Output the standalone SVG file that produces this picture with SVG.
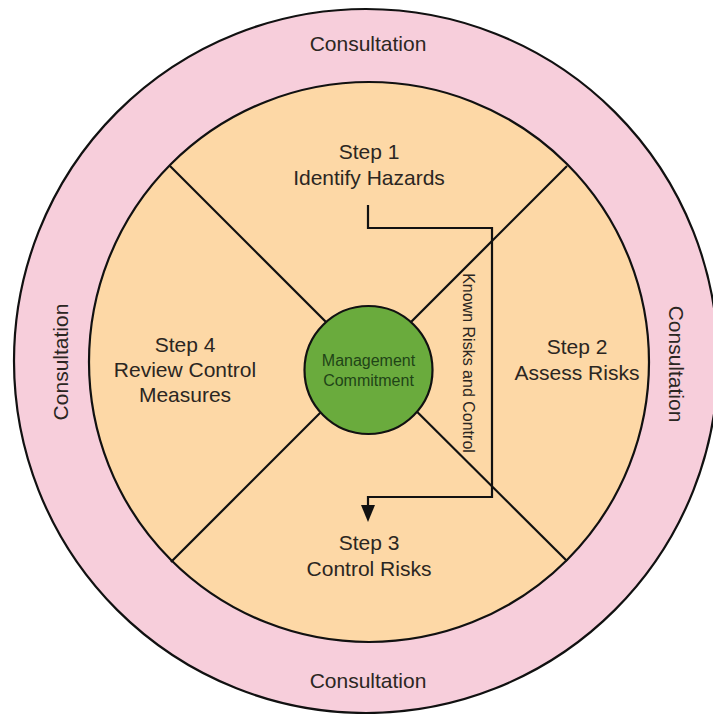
<svg xmlns="http://www.w3.org/2000/svg" width="713" height="714" viewBox="0 0 713 714">
<style>
.t{font-family:"Liberation Sans",Arial,sans-serif;font-size:21px;fill:#2b2622;text-anchor:middle}
.s{fill:none;stroke:#111;stroke-width:2.2}
.c{fill:none;stroke:#111;stroke-width:2.2}
</style>
<defs>
<marker id="ah" markerUnits="userSpaceOnUse" markerWidth="16" markerHeight="18" refX="7" refY="0" orient="auto-start-reverse" viewBox="-1 -1 16 18" overflow="visible">
<path d="M0,-1 L14,-1 L7,16 Z" fill="#111" transform="rotate(-90 7 0)"/>
</marker>
</defs>
<rect width="713" height="714" fill="#fff"/>
<g id="outer">
<circle cx="366" cy="361" r="352" fill="#f7cedb" stroke="#111" stroke-width="2.2"/>
<text class="t" x="368" y="51">Consultation</text>
<text class="t" x="368" y="688">Consultation</text>
<text class="t" transform="translate(60 362) rotate(-90)" dominant-baseline="central">Consultation</text>
<text class="t" transform="translate(676 364) rotate(90)" dominant-baseline="central">Consultation</text>
</g>
<g id="inner">
<circle cx="369" cy="362" r="280" fill="#fdd8a6" stroke="#111" stroke-width="2.2"/>
</g>
<g id="dividers">
<line class="s" x1="170" y1="166" x2="368" y2="364"/>
<line class="s" x1="567" y1="166" x2="369" y2="364"/>
<line class="s" x1="171" y1="562" x2="368" y2="365"/>
<line class="s" x1="567" y1="561" x2="369" y2="364"/>
</g>
<g id="step1"><text class="t" x="369" y="159">Step 1</text><text class="t" x="369" y="185">Identify Hazards</text></g>
<g id="step2"><text class="t" x="577" y="354">Step 2</text><text class="t" x="577" y="380">Assess Risks</text></g>
<g id="step3"><text class="t" x="369" y="550">Step 3</text><text class="t" x="369" y="576">Control Risks</text></g>
<g id="step4"><text class="t" x="185" y="352">Step 4</text><text class="t" x="185" y="377">Review Control</text><text class="t" x="185" y="402">Measures</text></g>
<g id="center">
<circle cx="368.5" cy="370" r="64" fill="#6aab3d" stroke="#111" stroke-width="2.2"/>
<text class="t" x="368.5" y="366" style="font-size:16px;fill:#1f4417">Management</text>
<text class="t" x="368.5" y="386" style="font-size:16px;fill:#1f4417">Commitment</text>
</g>
<g id="connectors">
<path class="c" d="M368,205 V228 H492 V497 H368 V506" marker-end="url(#ah)"/>
<text class="t" transform="translate(468 363) rotate(90)" dominant-baseline="central" style="font-size:16px">Known Risks and Control</text>
</g>
</svg>
